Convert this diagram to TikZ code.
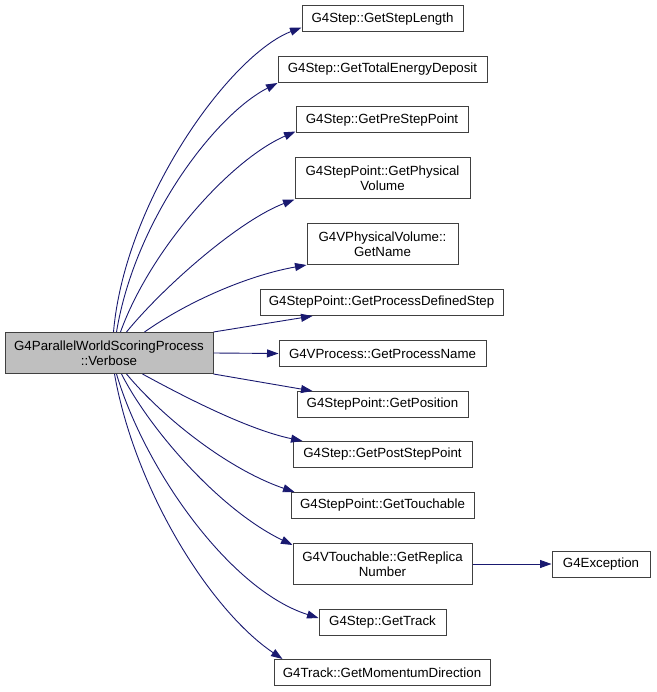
\documentclass[tikz,border=0pt]{standalone}
\usepackage{fontspec}
\setmainfont{Liberation Sans}
\usetikzlibrary{arrows.meta,calc}
\definecolor{edgec}{HTML}{191970}
\definecolor{boxc}{HTML}{404040}
\definecolor{rootfill}{HTML}{BFBFBF}
\begin{document}
\begin{tikzpicture}[x=1pt,y=-1pt,
  fn/.style={draw=boxc, line width=1pt, fill=white, inner sep=0pt, align=center,
             font=\fontsize{13.3}{15}\selectfont, minimum height=26pt},
  fn2/.style={fn, minimum height=41pt},
  edge/.style={draw=edgec, line width=0.9pt, -{Triangle[length=11.5pt,width=8pt]}, fill=none}]
\useasboundingbox (0,0) rectangle (656,692);
\node[fn2, fill=rootfill, minimum width=208pt] (v) at (109,353) {G4ParallelWorldScoringProcess\\::Verbose};
\node[fn, minimum width=161pt] (sl) at (382.5,19) {G4Step::GetStepLength};
\node[fn, minimum width=209pt] (te) at (382.5,69.5) {G4Step::GetTotalEnergyDeposit};
\node[fn, minimum width=172pt] (ps) at (382,120) {G4Step::GetPreStepPoint};
\node[fn2, minimum width=175pt] (pv) at (382.5,178.5) {G4StepPoint::GetPhysical\\Volume};
\node[fn2, minimum width=151pt] (gn) at (382.5,244) {G4VPhysicalVolume::\\GetName};
\node[fn, minimum width=243pt] (pd) at (381.5,302.5) {G4StepPoint::GetProcessDefinedStep};
\node[fn, minimum width=207pt] (pn) at (382.5,353.5) {G4VProcess::GetProcessName};
\node[fn, minimum width=171pt] (po) at (382.5,404.5) {G4StepPoint::GetPosition};
\node[fn, minimum width=179pt] (pp) at (382.5,454.5) {G4Step::GetPostStepPoint};
\node[fn, minimum width=183pt] (gt) at (382.5,505.5) {G4StepPoint::GetTouchable};
\node[fn2, minimum width=179pt] (rn) at (382.5,564) {G4VTouchable::GetReplica\\Number};
\node[fn, minimum width=98pt] (ex) at (601,564) {G4Exception};
\node[fn, minimum width=127pt] (tr) at (382.5,622) {G4Step::GetTrack};
\node[fn, minimum width=216pt] (md) at (382,672.5) {G4Track::GetMomentumDirection};

\draw[edge] ($(v.north west)+(109,0)$) .. controls (125,200) and (230,55) .. ($(sl.south west)+(0,-5)$);
\draw[edge] ($(v.north west)+(112,0)$) .. controls (135,220) and (215,115) .. (te.south west);
\draw[edge] ($(v.north west)+(116,0)$) .. controls (150,250) and (230,160) .. ($(ps.south west)+(0,-2)$);
\draw[edge] ($(v.north west)+(122,0)$) .. controls (165,285) and (240,220) .. (pv.south west);
\draw[edge] ($(v.north west)+(140,0)$) .. controls (190,300) and (250,275) .. (gn.south west);
\draw[edge] (v.north east) -- ($(pd.south west)+(53,0)$);
\draw[edge] (v.east) -- (pn.west);
\draw[edge] (v.south east) -- ($(po.north west)+(16,0)$);
\draw[edge] ($(v.south west)+(138,0)$) .. controls (190,400) and (250,430) .. ($(pp.north west)+(10,0)$);
\draw[edge] ($(v.south west)+(122,0)$) .. controls (165,420) and (230,470) .. ($(gt.north west)+(4,0)$);
\draw[edge] ($(v.south west)+(117,0)$) .. controls (150,430) and (220,510) .. ($(rn.north west)+(0,2)$);
\draw[edge] ($(v.south west)+(112,0)$) .. controls (145,470) and (230,590) .. ($(tr.west)+(0,-4)$);
\draw[edge] ($(v.south west)+(110,0)$) .. controls (135,490) and (210,610) .. ($(md.north west)+(9,0)$);
\draw[edge] (rn.east) -- (ex.west);
\end{tikzpicture}
\end{document}
